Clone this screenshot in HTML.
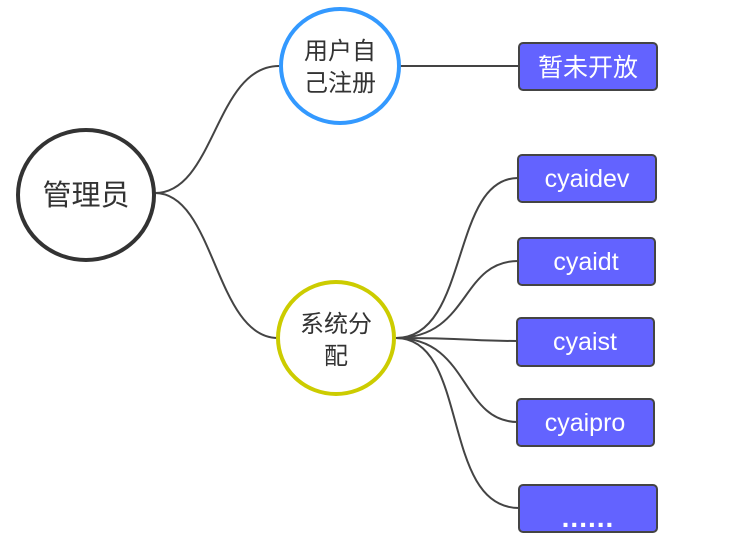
<!DOCTYPE html>
<html><head><meta charset="utf-8"><style>
body{margin:0;background:#fff;}
svg{display:block;}
text{font-family:"Liberation Sans","Noto Sans CJK SC",sans-serif;}
</style></head><body>
<svg width="745" height="539" viewBox="0 0 745 539" xmlns="http://www.w3.org/2000/svg">
<g fill="none" stroke="#444" stroke-width="2">
<path d="M155,193 C215,193 215,66 279,66"/>
<path d="M155,193 C215,193 215,338 278,338"/>
<path d="M400,66 L519,66"/>
<path d="M396,338 C470,338 450,178 518,178"/>
<path d="M396,338 C470,338 460,261 518,261"/>
<path d="M396,338 C470,338 470,341 518,341"/>
<path d="M396,338 C470,338 460,422 518,422"/>
<path d="M396,338 C470,338 440,508 519,508"/>
</g>
<ellipse cx="86" cy="195" rx="68" ry="65" fill="#fff" stroke="#333" stroke-width="4"/>
<text x="86" y="205" font-size="29" fill="#333" text-anchor="middle">管理员</text>
<ellipse cx="340" cy="66" rx="59" ry="57" fill="#fff" stroke="#3399ff" stroke-width="4"/>
<text x="340" y="59" font-size="24" fill="#333" text-anchor="middle">用户自</text>
<text x="340" y="91" font-size="24" fill="#333" text-anchor="middle">己注册</text>
<ellipse cx="336" cy="338" rx="58" ry="56" fill="#fff" stroke="#cccc00" stroke-width="4"/>
<text x="336" y="332" font-size="24" fill="#333" text-anchor="middle">系统分</text>
<text x="336" y="364" font-size="24" fill="#333" text-anchor="middle">配</text>
<g stroke="#444" stroke-width="2" fill="#6363ff">
<rect x="519" y="43" width="138" height="47" rx="4"/>
<rect x="518" y="155" width="138" height="47" rx="4"/>
<rect x="518" y="238" width="137" height="47" rx="4"/>
<rect x="517" y="318" width="137" height="48" rx="4"/>
<rect x="517" y="399" width="137" height="47" rx="4"/>
<rect x="519" y="485" width="138" height="47" rx="4"/>
</g>
<g fill="#fff" font-size="25" text-anchor="middle">
<text x="588" y="76">暂未开放</text>
<text x="587" y="187">cyaidev</text>
<text x="586" y="270">cyaidt</text>
<text x="585" y="350">cyaist</text>
<text x="585" y="431">cyaipro</text>
<text x="588" y="527" font-size="28" font-weight="bold" letter-spacing="1">......</text>
</g>
</svg>
</body></html>
